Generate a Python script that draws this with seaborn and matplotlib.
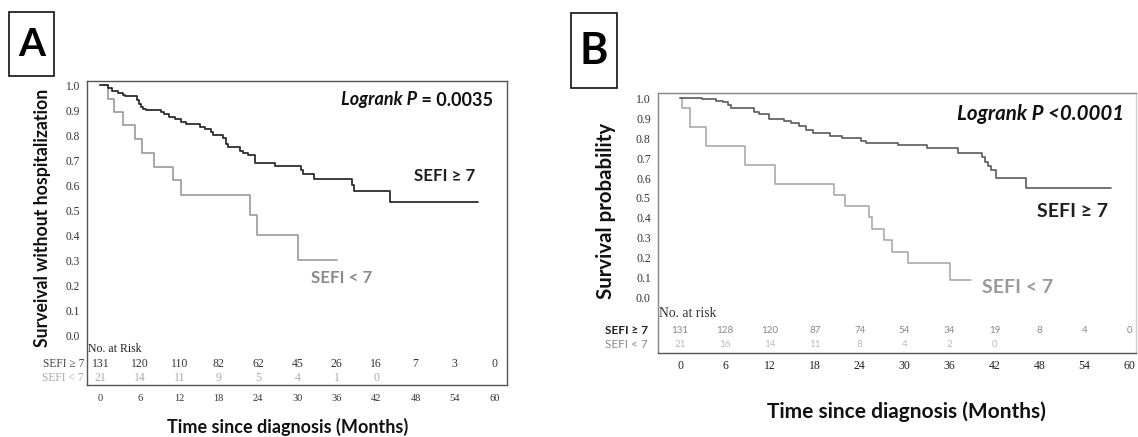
import numpy as np
import pandas as pd
import matplotlib
matplotlib.use("Agg")
import matplotlib.pyplot as plt
import seaborn as sns
from matplotlib.patches import Rectangle

# ---------------- data ----------------
month_ticks = [0, 6, 12, 18, 24, 30, 36, 42, 48, 54, 60]
y_ticks = [0.0, 0.1, 0.2, 0.3, 0.4, 0.5, 0.6, 0.7, 0.8, 0.9, 1.0]

# Panel A: SEFI >= 7 (step times / survival)
a_hi_t = [0, 1.2, 1.8, 2.6, 3.4, 3.8, 5.5, 5.9, 6.2, 6.5, 7.0, 9.2, 9.7, 10.5, 11.4, 12.2,
          13.0, 15.2, 16.0, 16.8, 17.2, 18.7, 19.2, 19.5, 21.2, 21.7, 22.5, 23.5, 26.6,
          30.5, 30.9, 32.6, 38.4, 38.6, 44.1, 57.5]
a_hi_s = [1.0, 0.991, 0.979, 0.971, 0.962, 0.957, 0.942, 0.925, 0.915, 0.905, 0.900, 0.893,
          0.886, 0.875, 0.866, 0.855, 0.847, 0.835, 0.826, 0.815, 0.803, 0.789, 0.766, 0.754,
          0.739, 0.731, 0.722, 0.690, 0.678, 0.662, 0.645, 0.626, 0.602, 0.576, 0.533, 0.533]
# Panel A: SEFI < 7
a_lo_t = [0, 1.2, 2.1, 3.4, 5.2, 6.4, 8.2, 11.0, 12.3, 22.8, 23.9, 30.1, 36.1]
a_lo_s = [1.0, 0.947, 0.895, 0.842, 0.784, 0.731, 0.675, 0.620, 0.562, 0.482, 0.402, 0.302, 0.302]

# Panel B: SEFI >= 7
b_hi_t = [0, 3.0, 4.8, 5.7, 6.4, 6.8, 9.9, 10.6, 11.9, 13.9, 14.8, 15.9, 16.8, 17.7, 20.0,
          21.7, 24.2, 24.9, 29.1, 33.0, 37.1, 40.3, 40.7, 41.1, 41.5, 42.2, 46.2, 57.6]
b_hi_s = [1.0, 0.995, 0.988, 0.980, 0.967, 0.950, 0.933, 0.920, 0.895, 0.888, 0.875, 0.862,
          0.842, 0.825, 0.813, 0.800, 0.788, 0.774, 0.764, 0.749, 0.724, 0.707, 0.682, 0.660,
          0.640, 0.598, 0.548, 0.548]
# Panel B: SEFI < 7
b_lo_t = [0, 0.3, 1.4, 3.5, 8.7, 12.7, 20.6, 22.1, 25.2, 25.7, 27.3, 28.3, 30.4, 36.1, 38.9]
b_lo_s = [1.0, 0.953, 0.857, 0.762, 0.667, 0.572, 0.515, 0.460, 0.405, 0.343, 0.288, 0.229,
          0.172, 0.090, 0.090]

# numbers at risk
risk_a_hi = [131, 120, 110, 82, 62, 45, 26, 16, 7, 3, 0]
risk_a_lo = [21, 14, 11, 9, 5, 4, 1, 0]
risk_b_hi = [131, 128, 120, 87, 74, 54, 34, 19, 8, 4, 0]
risk_b_lo = [21, 16, 14, 11, 8, 4, 2, 0]

# ---------------- style ----------------
sns.set_style("white")
plt.rcParams['font.family'] = ['Lato', 'DejaVu Sans']
SERIF = ['Liberation Serif', 'DejaVu Serif']

W, H = 1138, 437
fig = plt.figure(figsize=(W / 100, H / 100), dpi=100)


def fx(x):
    return x / W


def fy(y):
    return 1 - y / H


def make_axes(l, t, r, b):
    return fig.add_axes([fx(l), fy(b), (r - l) / W, (b - t) / H])


def draw_curve(ax, t, s, color, lw):
    df = pd.DataFrame({"time": t, "surv": s})
    sns.lineplot(data=df, x="time", y="surv", ax=ax, color=color, linewidth=lw,
                 drawstyle="steps-post", estimator=None, sort=False, legend=False)


# ---------------- Panel A ----------------
axA = make_axes(86.7, 81.3, 506.7, 385)
draw_curve(axA, a_lo_t, a_lo_s, "#9a9a9a", 1.2)
draw_curve(axA, a_hi_t, a_hi_s, "#2e2e2e", 1.3)
axA.set_xlim(-2.1, 61.9)
axA.set_ylim(-0.197, 1.016)
axA.set_xticks(month_ticks)
axA.set_xticklabels([str(m) for m in month_ticks], fontfamily=SERIF, fontsize=7.5, color="#333333")
axA.set_yticks(y_ticks)
axA.set_yticklabels([f"{v:.1f}" for v in y_ticks], fontfamily=SERIF, fontsize=8.3, color="#333333")
axA.tick_params(axis="x", direction="out", length=3.5, width=0.8, color="#555555", pad=3)
axA.tick_params(axis="y", direction="out", length=3.5, width=0.8, color="#555555", pad=1.5)
axA.set_xlabel("")
axA.set_ylabel("")
for sp in axA.spines.values():
    sp.set_color("#555555")
    sp.set_linewidth(1.0)

axA.text(-1.9, -0.052, "No. at Risk", fontfamily=SERIF, fontsize=8.5, color="#222222",
         ha="left", va="center")
for m, n in zip(month_ticks, risk_a_hi):
    axA.text(m, -0.114, str(n), fontfamily=SERIF, fontsize=8.5, color="#333333", ha="center", va="center")
for m, n in zip(month_ticks, risk_a_lo):
    axA.text(m, -0.168, str(n), fontfamily=SERIF, fontsize=8.5, color="#aaaaaa", ha="center", va="center")
fig.text(fx(84), fy(364.3), "SEFI \u2265 7", fontfamily=SERIF, fontsize=8.3, color="#444444",
         ha="right", va="center")
fig.text(fx(84), fy(377.7), "SEFI < 7", fontfamily=SERIF, fontsize=8.3, color="#aaaaaa",
         ha="right", va="center")

fig.text(fx(43), fy(218), "Surveival without hospitalization", rotation=90, fontsize=12.7,
         fontweight="bold", ha="center", va="center", color="#111111")
fig.text(fx(287.5), fy(427), "Time since diagnosis (Months)", fontsize=13,
         fontweight="bold", ha="center", va="center", color="#111111")

fig.text(fx(413.6), fy(176), "SEFI \u2265 7", fontsize=12.2, fontweight="bold",
         ha="left", va="center", color="#1e1e1e")
fig.text(fx(310.7), fy(278), "SEFI < 7", fontsize=12.2, fontweight="bold",
         ha="left", va="center", color="#8a8a8a")

renderer = fig.canvas.get_renderer()
t1 = fig.text(fx(341), fy(100), "Logrank P", fontsize=13, fontweight="bold", style="italic",
              ha="left", va="center", color="#111111")
bb = t1.get_window_extent(renderer)
fig.text(bb.x1 / W, fy(100), " = 0.0035", fontsize=13, fontweight="bold",
         ha="left", va="center", color="#111111")

fig.patches.append(Rectangle((fx(9), fy(76)), 45 / W, 64 / H, transform=fig.transFigure,
                             fill=False, edgecolor="#111111", linewidth=1.2))
fig.text(fx(31.5), fy(45), "A", fontsize=28, fontweight="bold", ha="center", va="center",
         color="#000000")

# ---------------- Panel B ----------------
axB = make_axes(657.7, 93.5, 1136, 352.7)
draw_curve(axB, b_lo_t, b_lo_s, "#aaaaaa", 1.2)
draw_curve(axB, b_hi_t, b_hi_s, "#5a5a5a", 1.2)
axB.set_xlim(-2.98, 60.9)
axB.set_ylim(-0.276, 1.024)
axB.set_xticks(month_ticks)
axB.set_xticklabels([str(m) for m in month_ticks], fontfamily=SERIF, fontsize=8.5, color="#222222")
axB.set_yticks(y_ticks)
axB.set_yticklabels([f"{v:.1f}" for v in y_ticks], fontfamily=SERIF, fontsize=8.5, color="#333333")
axB.tick_params(axis="x", direction="inout", length=5, width=0.8, color="#555555", pad=3)
axB.tick_params(axis="y", direction="out", length=3.5, width=0.8, color="#777777", pad=1.5)
axB.set_xlabel("")
axB.set_ylabel("")
for name, sp in axB.spines.items():
    sp.set_color("#888888")
    sp.set_linewidth(1.0)
axB.spines["right"].set_color("#cccccc")
axB.spines["bottom"].set_color("#555555")

axB.text(-2.87, -0.077, "No. at risk", fontfamily=SERIF, fontsize=9.8, color="#333333",
         ha="left", va="center")
for m, n in zip(month_ticks, risk_b_hi):
    axB.text(m, -0.163, str(n), fontsize=7, color="#888888", ha="center", va="center")
for m, n in zip(month_ticks, risk_b_lo):
    axB.text(m, -0.234, str(n), fontsize=7, color="#bbbbbb", ha="center", va="center")
fig.text(fx(605), fy(330), "SEFI \u2265 7", fontsize=8.5, fontweight="bold", color="#222222",
         ha="left", va="center")
fig.text(fx(605), fy(344.3), "SEFI < 7", fontsize=8.5, color="#888888",
         ha="left", va="center")

fig.text(fx(606), fy(211), "Survival probability", rotation=90, fontsize=14.7,
         fontweight="bold", ha="center", va="center", color="#111111")
fig.text(fx(906), fy(411.7), "Time since diagnosis (Months)", fontsize=15,
         fontweight="bold", ha="center", va="center", color="#111111")

fig.text(fx(1037), fy(211.7), "SEFI \u2265 7", fontsize=14, fontweight="bold",
         ha="left", va="center", color="#1e1e1e")
fig.text(fx(981.7), fy(287.3), "SEFI < 7", fontsize=14, fontweight="bold",
         ha="left", va="center", color="#999999")
fig.text(fx(957), fy(114.3), "Logrank P <0.0001", fontsize=14.8, fontweight="bold",
         style="italic", ha="left", va="center", color="#111111")

fig.patches.append(Rectangle((fx(570.5), fy(88.3)), 46 / W, 75 / H, transform=fig.transFigure,
                             fill=False, edgecolor="#111111", linewidth=1.2))
fig.text(fx(593.5), fy(51), "B", fontsize=31, fontweight="bold", ha="center", va="center",
         color="#000000")

fig.savefig("out.png", dpi=100, facecolor="white")
